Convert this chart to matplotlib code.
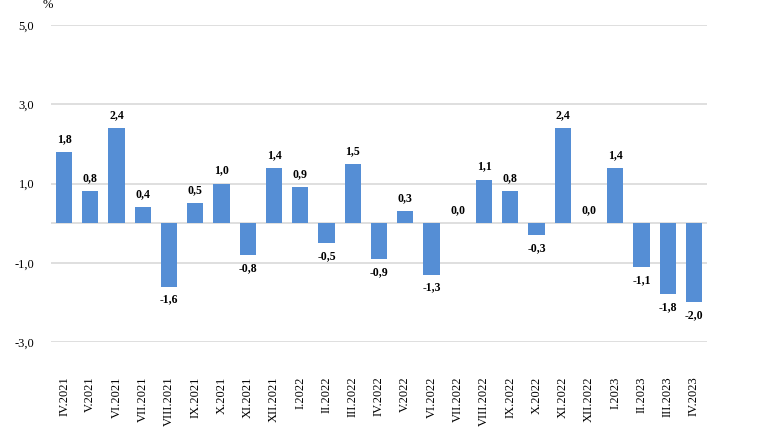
import matplotlib
matplotlib.use("Agg")
import matplotlib.pyplot as plt
import numpy as np

months = ["IV.2021", "V.2021", "VI.2021", "VII.2021", "VIII.2021", "IX.2021",
          "X.2021", "XI.2021", "XII.2021", "I.2022", "II.2022", "III.2022",
          "IV.2022", "V.2022", "VI.2022", "VII.2022", "VIII.2022", "IX.2022",
          "X.2022", "XI.2022", "XII.2022", "I.2023", "II.2023", "III.2023",
          "IV.2023"]
values = [1.8, 0.8, 2.4, 0.4, -1.6, 0.5, 1.0, -0.8, 1.4, 0.9, -0.5, 1.5,
          -0.9, 0.3, -1.3, 0.0, 1.1, 0.8, -0.3, 2.4, 0.0, 1.4, -1.1, -1.8, -2.0]
yticks = [-3.0, -1.0, 1.0, 3.0, 5.0]

plt.rcParams["font.family"] = ["Liberation Serif", "DejaVu Serif"]

fig = plt.figure(figsize=(7.68, 4.32), dpi=100)
ax = fig.add_axes([0.0664, 0.2083, 0.8542, 0.7338])

x = np.arange(len(months))
ax.bar(x, values, width=0.62, color="#558ED5", zorder=3)

for xi, v in zip(x, values):
    txt = f"{v:.1f}".replace(".", ",")
    if v >= 0:
        ax.annotate(txt, (xi, v), xytext=(0, 5), textcoords="offset points",
                    ha="center", va="bottom", fontsize=8.5, fontweight="bold")
    else:
        ax.annotate(txt, (xi, v), xytext=(0, -5), textcoords="offset points",
                    ha="center", va="top", fontsize=8.5, fontweight="bold")

ax.set_xlim(-0.5, len(months) - 0.5)
ax.set_ylim(-3, 5)
ax.set_yticks(yticks)
ax.set_yticklabels([f"{t:.1f}".replace(".", ",") for t in yticks], fontsize=9)
ax.set_xticks(x)
ax.set_xticklabels(months, rotation=90, fontsize=9, va="top", ha="center")
ax.tick_params(axis="both", length=0)
ax.tick_params(axis="x", pad=25)
ax.tick_params(axis="y", pad=12)

ax.grid(axis="y", color="#D9D9D9", linewidth=1.2, zorder=0)
ax.axhline(0, color="#D9D9D9", linewidth=1.2, zorder=2)
for s in ax.spines.values():
    s.set_visible(False)

fig.text(48 / 768, 1 - 5 / 432, "%", fontsize=9, ha="center", va="center")

fig.savefig("out.png", dpi=100)
